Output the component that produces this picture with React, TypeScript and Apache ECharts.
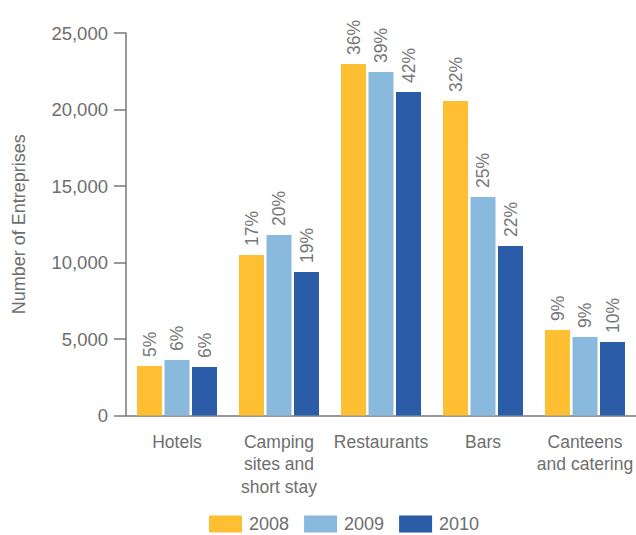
import React, { useEffect, useRef } from "react";
import * as echarts from "echarts";

const categories = ["Hotels", "Camping\nsites and\nshort stay", "Restaurants", "Bars", "Canteens\nand catering"];
const years = ["2008", "2009", "2010"];
const values2008 = [3235, 10490, 22970, 20560, 5590];
const values2009 = [3630, 11800, 22450, 14280, 5130];
const values2010 = [3170, 9380, 21140, 11080, 4800];
const pct2008 = [5, 17, 36, 32, 9];
const pct2009 = [6, 20, 39, 25, 9];
const pct2010 = [6, 19, 42, 22, 10];
const yTicks = { min: 0, max: 25000, interval: 5000 };

const colors = ["#FEC032", "#8AB9DE", "#2A5CA8"];
const FONT = "'Liberation Sans', Arial, sans-serif";
const TEXT = "#6e6e6e";

export default function App() {
  const ref = useRef<HTMLDivElement>(null);
  useEffect(() => {
    if (!ref.current) return;
    const chart = echarts.init(ref.current, null, { renderer: "svg" });
    const allVals = [values2008, values2009, values2010];
    const allPct = [pct2008, pct2009, pct2010];
    chart.setOption({
      animation: false,
      textStyle: { fontFamily: FONT },
      grid: { left: 126, top: 33, width: 512.5, height: 382.5, containLabel: false },
      legend: {
        top: 515,
        left: 209,
        padding: 0,
        itemWidth: 33,
        itemHeight: 17,
        itemGap: 15,
        icon: "rect",
        textStyle: { fontSize: 18, lineHeight: 18, color: TEXT, fontFamily: FONT, padding: [0, 0, 0, 2] },
        data: years,
      },
      xAxis: {
        type: "category",
        data: categories,
        axisLine: { lineStyle: { color: "#777", width: 1.5 } },
        axisTick: { alignWithLabel: true, length: 9, lineStyle: { color: "#777", width: 1.5 } },
        axisLabel: { color: TEXT, fontSize: 17.5, lineHeight: 22.5, margin: 15, fontFamily: FONT, interval: 0 },
      },
      yAxis: {
        type: "value",
        min: yTicks.min,
        max: yTicks.max,
        interval: yTicks.interval,
        name: "Number of Entreprises",
        nameLocation: "middle",
        nameGap: 98,
        nameTextStyle: { color: TEXT, fontSize: 18, fontFamily: FONT },
        splitLine: { show: false },
        axisLine: { show: true, lineStyle: { color: "#777", width: 1.5 } },
        axisTick: { show: true, length: 12, lineStyle: { color: "#777", width: 1.5 } },
        axisLabel: {
          color: TEXT,
          fontSize: 18.5,
          margin: 18,
          fontFamily: FONT,
          formatter: (v: number) => v.toLocaleString("en-US"),
        },
      },
      series: years.map((y, i) => ({
        name: y,
        type: "bar",
        data: allVals[i],
        barWidth: 25,
        barGap: "10%",
        itemStyle: { color: colors[i] },
        label: {
          show: true,
          position: "top",
          rotate: 90,
          align: "left",
          verticalAlign: "middle",
          distance: 9,
          color: "#777",
          fontSize: 17.5,
          fontFamily: FONT,
          formatter: (p: any) => allPct[i][p.dataIndex] + "%",
        },
      })),
    });
    return () => chart.dispose();
  }, []);
  return <div ref={ref} style={{ position: "absolute", left: 0, top: 0, width: 636, height: 535 }} />;
}
